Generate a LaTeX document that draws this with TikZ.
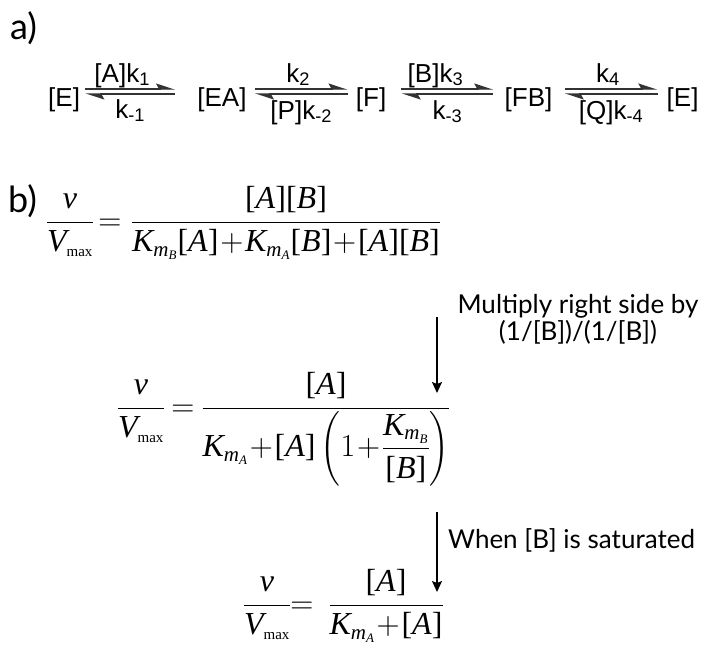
\RequirePackage{fix-cm}
\documentclass[tikz,border=0pt]{standalone}
\usepackage{amsmath}
\usepackage{fontspec}
\setmainfont{Liberation Serif}
\newfontfamily\rxnfont{Liberation Sans}
\newfontfamily\notefont{Lato}
\DeclareMathSizes{32}{32}{21}{13}
\medmuskip=1mu
\usepackage{tikz}
\usetikzlibrary{positioning,arrows.meta}
\definecolor{harpoongray}{HTML}{333333}
\tikzset{
    species/.style={
        font=\rxnfont\fontsize{26}{31}\selectfont, inner sep=0pt
    },
    ratelabel/.style={
        font=\rxnfont\fontsize{26}{31}\selectfont, inner sep=0pt
    },
    partlabel/.style={
        font=\notefont\fontsize{36}{40}\selectfont, inner sep=0pt, anchor=base west
    },
    note/.style={
        font=\notefont\fontsize{26}{27}\selectfont, align=center, inner sep=0pt
    },
    eqn/.style={
        font=\fontsize{32}{38}\selectfont, inner sep=0pt, anchor=base
    },
    fwd/.style={draw=harpoongray, line width=1.4pt, -{Stealth[harpoon, length=17pt, width=11pt, inset=3pt]}},
    bwd/.style={draw=harpoongray, line width=1.4pt, {Stealth[harpoon, length=17pt, width=11pt, inset=3pt]}-},
    implies/.style={line width=1.5pt, -{Stealth[length=11pt, width=10pt, inset=2pt]}},
}

\begin{document}
\begin{tikzpicture}[x=1pt, y=-1pt]
    \useasboundingbox (0,0) rectangle (701,645);

    % a) mechanism
    \node[partlabel] (parta) at (10,39) {a)};
    \node[species, anchor=base west] (E1) at (48,106) {[E]};
    \node[species, right=117pt of E1] (EA) {[EA]};
    \node[species, right=109pt of EA] (F) {[F]};
    \node[species, right=118pt of F] (FB) {[FB]};
    \node[species, right=114pt of FB] (E2) {[E]};
    \draw[fwd] ([xshift=5pt,yshift=17pt]E1.base east) -- ([xshift=-22pt,yshift=17pt]EA.base west)
        node[ratelabel, midway, anchor=base, xshift=-8pt, yshift=7pt] (k1) {[A]k\textsubscript{1}};
    \draw[bwd] ([xshift=5pt,yshift=12pt]E1.base east) -- ([xshift=-22pt,yshift=12pt]EA.base west)
        node[ratelabel, midway, anchor=base, yshift=-24pt] (km1) {k\textsubscript{-1}};
    \draw[fwd] ([xshift=8pt,yshift=17pt]EA.base east) -- ([xshift=-8pt,yshift=17pt]F.base west)
        node[ratelabel, midway, anchor=base, xshift=-3pt, yshift=7pt] (k2) {k\textsubscript{2}};
    \draw[bwd] ([xshift=8pt,yshift=12pt]EA.base east) -- ([xshift=-8pt,yshift=12pt]F.base west)
        node[ratelabel, midway, anchor=base, yshift=-25pt] (km2) {[P]k\textsubscript{-2}};
    \draw[fwd] ([xshift=15pt,yshift=17pt]F.base east) -- ([xshift=-11pt,yshift=17pt]FB.base west)
        node[ratelabel, midway, anchor=base, xshift=-12pt, yshift=7pt] (k3) {[B]k\textsubscript{3}};
    \draw[bwd] ([xshift=15pt,yshift=12pt]F.base east) -- ([xshift=-11pt,yshift=12pt]FB.base west)
        node[ratelabel, midway, anchor=base, yshift=-25pt] (km3) {k\textsubscript{-3}};
    \draw[fwd] ([xshift=12pt,yshift=17pt]FB.base east) -- ([xshift=-9pt,yshift=17pt]E2.base west)
        node[ratelabel, midway, anchor=base, xshift=-3pt, yshift=7pt] (k4) {k\textsubscript{4}};
    \draw[bwd] ([xshift=12pt,yshift=12pt]FB.base east) -- ([xshift=-9pt,yshift=12pt]E2.base west)
        node[ratelabel, midway, anchor=base, yshift=-25pt] (km4) {[Q]k\textsubscript{-4}};

    % b) rate law
    \node[partlabel] (partb) at (8,212) {b)};
    \node[eqn] (lhs1) at (70,230) {$\dfrac{\textit{v}}{\textit{V}_{\text{\fontsize{15}{15}\selectfont max}}}$};
    \node[eqn] (eq1) at (110,230) {$=$};
    \node[eqn] (rhs1) at (286,230) {$\dfrac{\text{[\textit{A}][\textit{B}]}}{\textit{K}_{\textit{m}_{\textit{B}}}\text{[\textit{A}]}+\textit{K}_{\textit{m}_{\textit{A}}}\text{[\textit{B}]}+\text{[\textit{A}][\textit{B}]}}$};

    \coordinate (multop) at (437,317);
    \coordinate (multip) at (437,393);
    \draw[implies] (multop) -- (multip);
    \node[note, anchor=base] (mulnote) at (578,340) {Multiply right side by\\(1/[B])/(1/[B])};

    \node[eqn] (lhs2) at (141,416) {$\dfrac{\textit{v}}{\textit{V}_{\text{\fontsize{15}{15}\selectfont max}}}$};
    \node[eqn] (eq2) at (183,416) {$=$};
    \node[eqn] (rhs2) at (326,416) {$\dfrac{\text{[\textit{A}]}}{\textit{K}_{\textit{m}_{\textit{A}}}+\text{[\textit{A}]}\left(1+\dfrac{\textit{K}_{\textit{m}_{\textit{B}}}}{\text{[\textit{B}]}}\right)}$};

    \coordinate (sattop) at (437,512);
    \coordinate (sattip) at (437,592);
    \draw[implies] (sattop) -- (sattip);
    \node[note, anchor=base west] (satnote) at (448,548) {When [B] is saturated};

    \node[eqn] (lhs3) at (267,613) {$\dfrac{\textit{v}}{\textit{V}_{\text{\fontsize{15}{15}\selectfont max}}}$};
    \node[eqn] (eq3) at (302,613) {$=$};
    \node[eqn] (rhs3) at (386,613) {$\dfrac{\text{[\textit{A}]}}{\textit{K}_{\textit{m}_{\textit{A}}}+\text{[\textit{A}]}}$};
\end{tikzpicture}
\end{document}
